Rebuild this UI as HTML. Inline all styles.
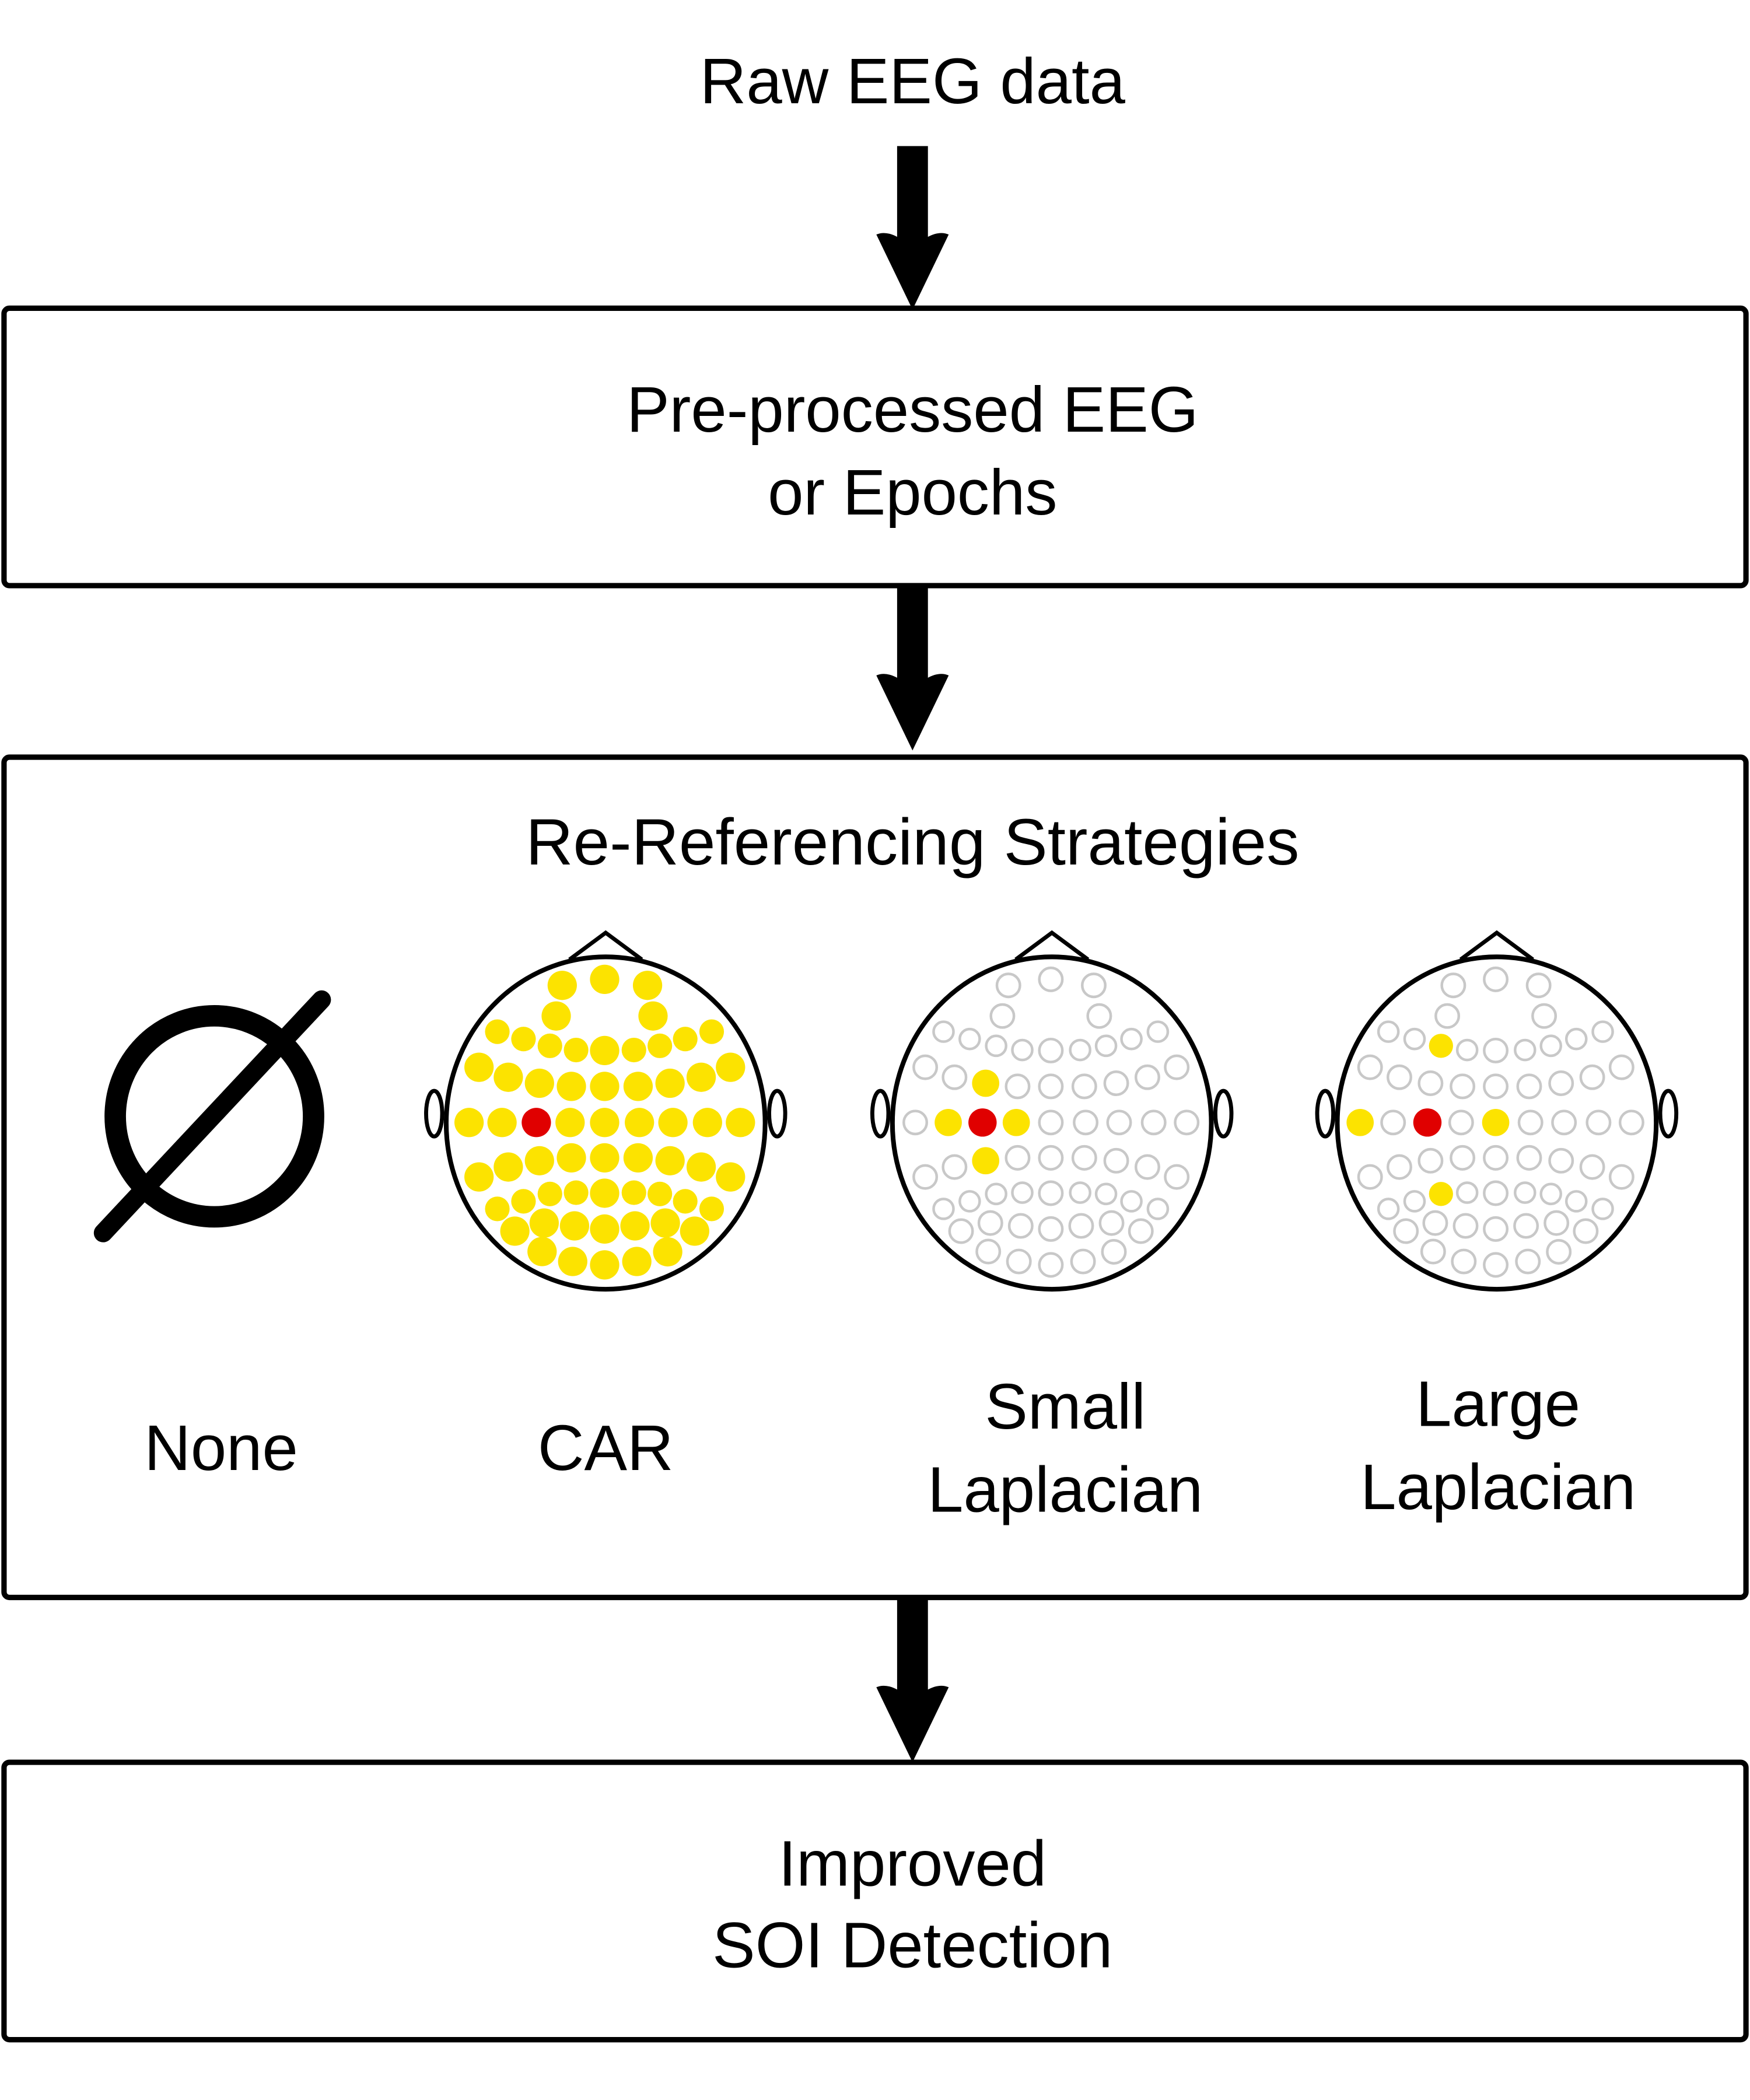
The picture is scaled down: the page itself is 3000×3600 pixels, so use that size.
<!DOCTYPE html>
<html><head><meta charset="utf-8"><style>
html,body{margin:0;padding:0;background:#fff;}
svg{display:block;}
text{font-family:"Liberation Sans",Arial,sans-serif;font-size:48px;fill:#000;text-anchor:middle;}
</style></head><body>
<svg width="3000" height="3600" viewBox="0 0 1306 1567" preserveAspectRatio="none" xmlns="http://www.w3.org/2000/svg">
<defs>
  <g id="arrow">
    <rect x="-11.5" y="0" width="23" height="70"/>
    <path d="M-27,66 Q-20,63 -11,68 L11,68 Q20,63 27,66 L0,122 Z"/>
  </g>
  <g id="head">
    <path d="M-27,-122 L0,-142 L27,-122" fill="none" stroke="#000" stroke-width="3"/>
    <ellipse cx="0" cy="0" rx="119" ry="124" fill="#fff" stroke="#000" stroke-width="3.5"/>
    <ellipse cx="-128" cy="-7" rx="6" ry="17" fill="none" stroke="#000" stroke-width="3"/>
    <ellipse cx="128" cy="-7" rx="6" ry="17" fill="none" stroke="#000" stroke-width="3"/>
  </g>
  <g id="posY" fill="#fce300">
    <circle cx="586" cy="316" r="56"/><circle cx="748" cy="293" r="56"/><circle cx="912" cy="316" r="56"/>
    <circle cx="563" cy="433" r="56"/><circle cx="933" cy="433" r="56"/>
    <circle cx="338" cy="493" r="47"/><circle cx="438" cy="521" r="47"/><circle cx="539" cy="547" r="47"/><circle cx="639" cy="563" r="47"/><circle cx="748" cy="565" r="56"/><circle cx="860" cy="563" r="47"/><circle cx="959" cy="547" r="47"/><circle cx="1056" cy="521" r="47"/><circle cx="1157" cy="493" r="47"/>
    <circle cx="268" cy="629" r="56"/><circle cx="380" cy="667" r="56"/><circle cx="499" cy="690" r="56"/><circle cx="621" cy="702" r="56"/><circle cx="748" cy="702" r="56"/><circle cx="876" cy="702" r="56"/><circle cx="998" cy="690" r="56"/><circle cx="1117" cy="667" r="56"/><circle cx="1229" cy="629" r="56"/>
    <circle cx="230" cy="840" r="56"/><circle cx="356" cy="840" r="56"/><circle cx="616" cy="840" r="56"/><circle cx="748" cy="840" r="56"/><circle cx="881" cy="840" r="56"/><circle cx="1009" cy="840" r="56"/><circle cx="1141" cy="840" r="56"/><circle cx="1267" cy="840" r="56"/>
    <circle cx="268" cy="1048" r="56"/><circle cx="380" cy="1010" r="56"/><circle cx="499" cy="986" r="56"/><circle cx="621" cy="975" r="56"/><circle cx="748" cy="975" r="56"/><circle cx="876" cy="975" r="56"/><circle cx="998" cy="986" r="56"/><circle cx="1117" cy="1010" r="56"/><circle cx="1229" cy="1048" r="56"/>
    <circle cx="338" cy="1170" r="47"/><circle cx="438" cy="1141" r="47"/><circle cx="539" cy="1113" r="47"/><circle cx="639" cy="1108" r="47"/><circle cx="748" cy="1110" r="56"/><circle cx="860" cy="1108" r="47"/><circle cx="959" cy="1113" r="47"/><circle cx="1056" cy="1141" r="47"/><circle cx="1157" cy="1170" r="47"/>
    <circle cx="405" cy="1255" r="56"/><circle cx="517" cy="1224" r="56"/><circle cx="633" cy="1235" r="56"/><circle cx="748" cy="1247" r="56"/><circle cx="864" cy="1235" r="56"/><circle cx="980" cy="1224" r="56"/><circle cx="1092" cy="1255" r="56"/>
    <circle cx="509" cy="1333" r="56"/><circle cx="626" cy="1371" r="56"/><circle cx="748" cy="1384" r="56"/><circle cx="871" cy="1371" r="56"/><circle cx="989" cy="1334" r="56"/>
  </g>
  <g id="posG" fill="none" stroke="#c8c8c8" stroke-width="10">
    <circle cx="586" cy="316" r="44"/><circle cx="748" cy="293" r="44"/><circle cx="912" cy="316" r="44"/>
    <circle cx="563" cy="433" r="44"/><circle cx="933" cy="433" r="44"/>
    <circle cx="338" cy="493" r="38"/><circle cx="438" cy="521" r="38"/><circle cx="539" cy="547" r="38"/><circle cx="639" cy="563" r="38"/><circle cx="748" cy="565" r="44"/><circle cx="860" cy="563" r="38"/><circle cx="959" cy="547" r="38"/><circle cx="1056" cy="521" r="38"/><circle cx="1157" cy="493" r="38"/>
    <circle cx="268" cy="629" r="44"/><circle cx="380" cy="667" r="44"/><circle cx="499" cy="690" r="44"/><circle cx="621" cy="702" r="44"/><circle cx="748" cy="702" r="44"/><circle cx="876" cy="702" r="44"/><circle cx="998" cy="690" r="44"/><circle cx="1117" cy="667" r="44"/><circle cx="1229" cy="629" r="44"/>
    <circle cx="230" cy="840" r="44"/><circle cx="356" cy="840" r="44"/><circle cx="616" cy="840" r="44"/><circle cx="748" cy="840" r="44"/><circle cx="881" cy="840" r="44"/><circle cx="1009" cy="840" r="44"/><circle cx="1141" cy="840" r="44"/><circle cx="1267" cy="840" r="44"/>
    <circle cx="268" cy="1048" r="44"/><circle cx="380" cy="1010" r="44"/><circle cx="499" cy="986" r="44"/><circle cx="621" cy="975" r="44"/><circle cx="748" cy="975" r="44"/><circle cx="876" cy="975" r="44"/><circle cx="998" cy="986" r="44"/><circle cx="1117" cy="1010" r="44"/><circle cx="1229" cy="1048" r="44"/>
    <circle cx="338" cy="1170" r="38"/><circle cx="438" cy="1141" r="38"/><circle cx="539" cy="1113" r="38"/><circle cx="639" cy="1108" r="38"/><circle cx="748" cy="1110" r="44"/><circle cx="860" cy="1108" r="38"/><circle cx="959" cy="1113" r="38"/><circle cx="1056" cy="1141" r="38"/><circle cx="1157" cy="1170" r="38"/>
    <circle cx="405" cy="1255" r="44"/><circle cx="517" cy="1224" r="44"/><circle cx="633" cy="1235" r="44"/><circle cx="748" cy="1247" r="44"/><circle cx="864" cy="1235" r="44"/><circle cx="980" cy="1224" r="44"/><circle cx="1092" cy="1255" r="44"/>
    <circle cx="509" cy="1333" r="44"/><circle cx="626" cy="1371" r="44"/><circle cx="748" cy="1384" r="44"/><circle cx="871" cy="1371" r="44"/><circle cx="989" cy="1334" r="44"/>
  </g>
</defs>

<text x="681" y="77">Raw EEG data</text>
<use href="#arrow" x="681" y="109"/>
<rect x="3" y="230" width="1300" height="207" rx="4" fill="none" stroke="#000" stroke-width="4"/>
<text x="681" y="322">Pre-processed EEG</text>
<text x="681" y="384">or Epochs</text>
<use href="#arrow" x="681" y="438"/>
<rect x="3" y="565" width="1300" height="627" rx="4" fill="none" stroke="#000" stroke-width="4"/>
<text x="681" y="645" style="font-size:49px">Re-Referencing Strategies</text>

<ellipse cx="160" cy="833" rx="74" ry="75" fill="none" stroke="#000" stroke-width="16"/>
<line x1="77" y1="920" x2="240" y2="746" stroke="#000" stroke-width="14" stroke-linecap="round"/>

<g transform="translate(452,838)">
  <use href="#head"/>
  <g transform="scale(0.1953) translate(-752,-842)">
    <use href="#posY"/>
    <circle cx="487" cy="840" r="56" fill="#e00000"/>
  </g>
</g>
<g transform="translate(785,838)">
  <use href="#head"/>
  <g transform="scale(0.1953) translate(-752,-842)">
    <use href="#posG"/>
    <circle cx="499" cy="690" r="52" fill="#fce300"/>
    <circle cx="499" cy="986" r="52" fill="#fce300"/>
    <circle cx="356" cy="840" r="52" fill="#fce300"/>
    <circle cx="616" cy="840" r="52" fill="#fce300"/>
    <circle cx="487" cy="840" r="54" fill="#e00000"/>
  </g>
</g>
<g transform="translate(1117,838)">
  <use href="#head"/>
  <g transform="scale(0.1953) translate(-752,-842)">
    <use href="#posG"/>
    <circle cx="539" cy="547" r="46" fill="#fce300"/>
    <circle cx="539" cy="1113" r="46" fill="#fce300"/>
    <circle cx="230" cy="840" r="52" fill="#fce300"/>
    <circle cx="748" cy="840" r="52" fill="#fce300"/>
    <circle cx="487" cy="840" r="54" fill="#e00000"/>
  </g>
</g>

<text x="165" y="1097">None</text>
<text x="452" y="1097">CAR</text>
<text x="795" y="1066">Small</text>
<text x="795" y="1128">Laplacian</text>
<text x="1118" y="1064">Large</text>
<text x="1118" y="1126">Laplacian</text>

<use href="#arrow" x="681" y="1193"/>
<rect x="3" y="1315" width="1300" height="207" rx="4" fill="none" stroke="#000" stroke-width="4"/>
<text x="681" y="1407">Improved</text>
<text x="681" y="1468">SOI Detection</text>
</svg>
</body></html>
